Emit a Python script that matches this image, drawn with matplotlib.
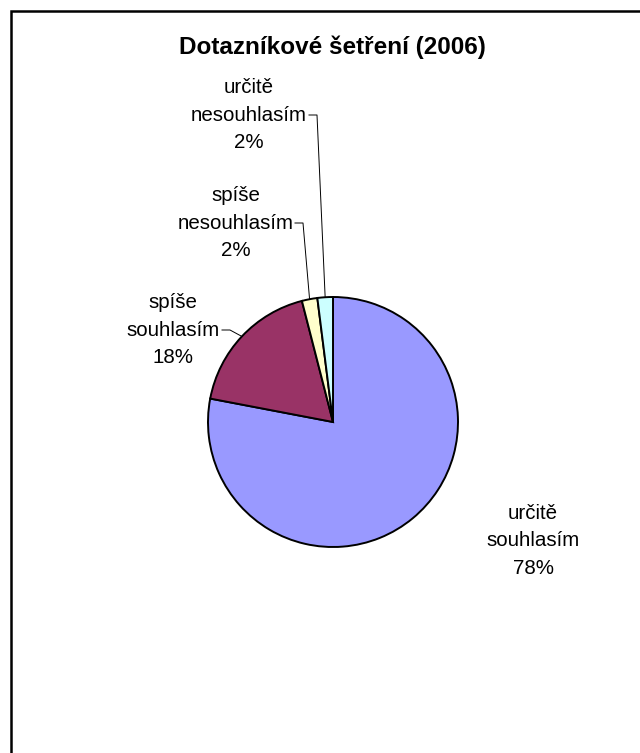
import numpy as np
import matplotlib
matplotlib.use('Agg')
import matplotlib.pyplot as plt

plt.rcParams['font.family'] = ['Liberation Sans', 'DejaVu Sans']

# Data.
title = 'Dotazníkové šetření (2006)'
labels = ['určitě\nsouhlasím', 'spíše\nsouhlasím', 'spíše\nnesouhlasím', 'určitě\nnesouhlasím']
values = [78, 18, 2, 2]
colors = ['#9999FF', '#993366', '#FFFFCC', '#CCFFFF']

W, H = 640, 753
fig = plt.figure(figsize=(W / 100, H / 100), dpi=100)
ax = fig.add_axes([0, 0, 1, 1])

# Pixel helper (y measured from the top of the picture).
def Y(py):
    return H - py

cx, cy, r = 333, Y(422), 125

wedges, _ = ax.pie(values, colors=colors, startangle=90, counterclock=False,
                   center=(cx, cy), radius=r,
                   wedgeprops=dict(edgecolor='black', linewidth=1.4))

ax.set_xlim(0, W)
ax.set_ylim(0, H)
ax.set_aspect('auto')
ax.axis('off')

# Label positions (text centre) and leader start points, in pixels.
label_pos = [(533, 541), (173, 330), (236, 223), (249, 115)]
leader_start = [None, (222, 330), (295, 223), (309, 115)]

for i, w in enumerate(wedges):
    pct = '%d%%' % round(values[i] / sum(values) * 100)
    tx, ty = label_pos[i]
    ax.text(tx, Y(ty), labels[i] + '\n' + pct, ha='center', va='center',
            fontsize=14.8, linespacing=1.55)
    if leader_start[i] is not None:
        mid = np.deg2rad((w.theta1 + w.theta2) / 2)
        ex, ey = cx + r * np.cos(mid), cy + r * np.sin(mid)
        sx, sy = leader_start[i]
        ax.plot([sx, sx + 8, ex], [Y(sy), Y(sy), ey], color='black', linewidth=0.7)

ax.text(332, Y(47), title, ha='center', va='center', fontsize=17.5, fontweight='bold')

# Chart area border (open at right and bottom, as cropped).
ax.plot([11, 11, W + 5], [-5, Y(11), Y(11)], color='black', linewidth=1.8,
        solid_joinstyle='miter', clip_on=False)

fig.savefig('out.png', dpi=100)
